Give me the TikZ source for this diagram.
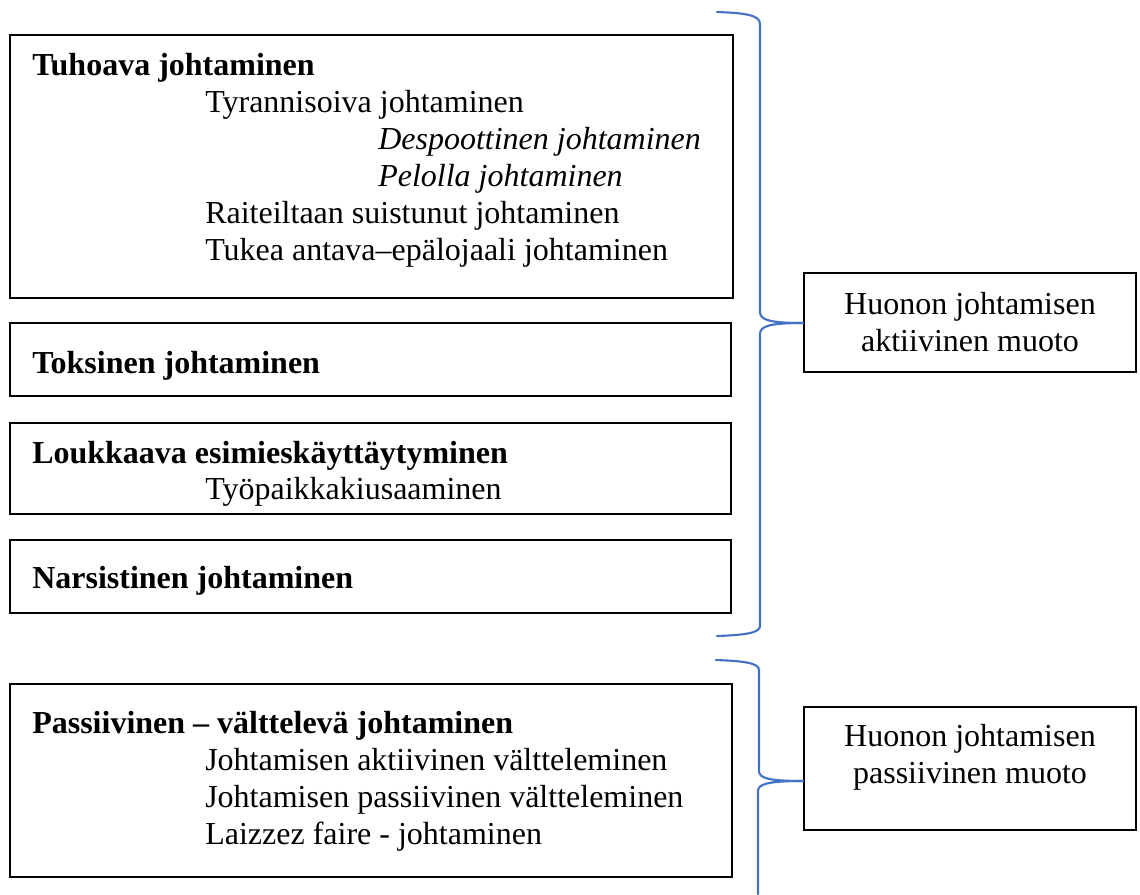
\documentclass[tikz,border=0pt]{standalone}
\usepackage{fontspec}
\setmainfont{Liberation Serif}
\usetikzlibrary{fit}
\definecolor{braceblue}{HTML}{4472C4}
\begin{document}
\begin{tikzpicture}[x=0.75pt,y=-0.75pt,
  box/.style={draw, line width=1.4pt, inner sep=0pt, rectangle},
  txt/.style={anchor=base west, inner sep=0pt, font=\fontsize{24}{27.6}\selectfont},
  head/.style={txt, font=\fontsize{24}{27.6}\selectfont\bfseries},
  sub/.style={txt, font=\fontsize{24}{27.6}\selectfont\itshape},
  ctxt/.style={anchor=base, inner sep=0pt, font=\fontsize{24}{27.6}\selectfont},
  brace/.style={draw=braceblue, line width=1.6pt, line cap=round, line join=round}]
\useasboundingbox (0,0) rectangle (1140,894);

% left boxes
\node[box, fit={(10,35) (733,298)}] (b1) {};
\node[box, fit={(10,323) (731,396)}] (b2) {};
\node[box, fit={(10,423) (731,514)}] (b3) {};
\node[box, fit={(10,540) (731,613)}] (b4) {};
\node[box, fit={(10,684) (732,877)}] (b5) {};

% right boxes
\node[box, fit={(804,273) (1136,372)}] (r1) {};
\node[box, fit={(804,707) (1136,830)}] (r2) {};

% texts box 1
\node[head] (t1) at (32,75) {Tuhoava johtaminen};
\node[txt] (t1a) at (205,112) {Tyrannisoiva johtaminen};
\node[sub] (t1b) at (378,149) {Despoottinen johtaminen};
\node[sub] (t1c) at (378,186) {Pelolla johtaminen};
\node[txt] (t1d) at (205,223) {Raiteiltaan suistunut johtaminen};
\node[txt] (t1e) at (205,260) {Tukea antava–epälojaali johtaminen};

\node[head] (t2) at (32,373) {Toksinen johtaminen};
\node[head] (t3) at (32,463) {Loukkaava esimieskäyttäytyminen};
\node[txt] (t3a) at (205,499) {Työpaikkakiusaaminen};
\node[head] (t4) at (32,588) {Narsistinen johtaminen};

\node[head] (t5) at (32,733) {Passiivinen – välttelevä johtaminen};
\node[txt] (t5a) at (205,770) {Johtamisen aktiivinen vältteleminen};
\node[txt] (t5b) at (205,807) {Johtamisen passiivinen vältteleminen};
\node[txt] (t5c) at (205,844) {Laizzez faire - johtaminen};

\node[ctxt] (r1a) at (970,314) {Huonon johtamisen};
\node[ctxt] (r1b) at (970,351) {aktiivinen muoto};
\node[ctxt] (r2a) at (970,746) {Huonon johtamisen};
\node[ctxt] (r2b) at (970,783) {passiivinen muoto};

% braces
\coordinate (br1top) at (717,12);
\coordinate (br1bot) at (717,636);
\coordinate (tip1) at (r1.west |- 0,323);
\draw[brace] (br1top) .. controls (745,13) and (760,15) .. (760,24)
  -- (760,312) .. controls (760,320) and (770,323) .. (tip1);
\draw[brace] (tip1) .. controls (770,323) and (760,326) .. (760,334)
  -- (760,626) .. controls (760,633) and (745,635) .. (br1bot);

\coordinate (br2top) at (716,660);
\coordinate (br2bot) at (758,894);
\coordinate (tip2) at (r2.west |- 0,781);
\draw[brace] (br2top) .. controls (744,661) and (759,663) .. (759,670)
  -- (759,771) .. controls (759,778) and (768,781) .. (tip2);
\draw[brace] (tip2) .. controls (768,781) and (758,784) .. (758,791)
  -- (br2bot);
\end{tikzpicture}
\end{document}
